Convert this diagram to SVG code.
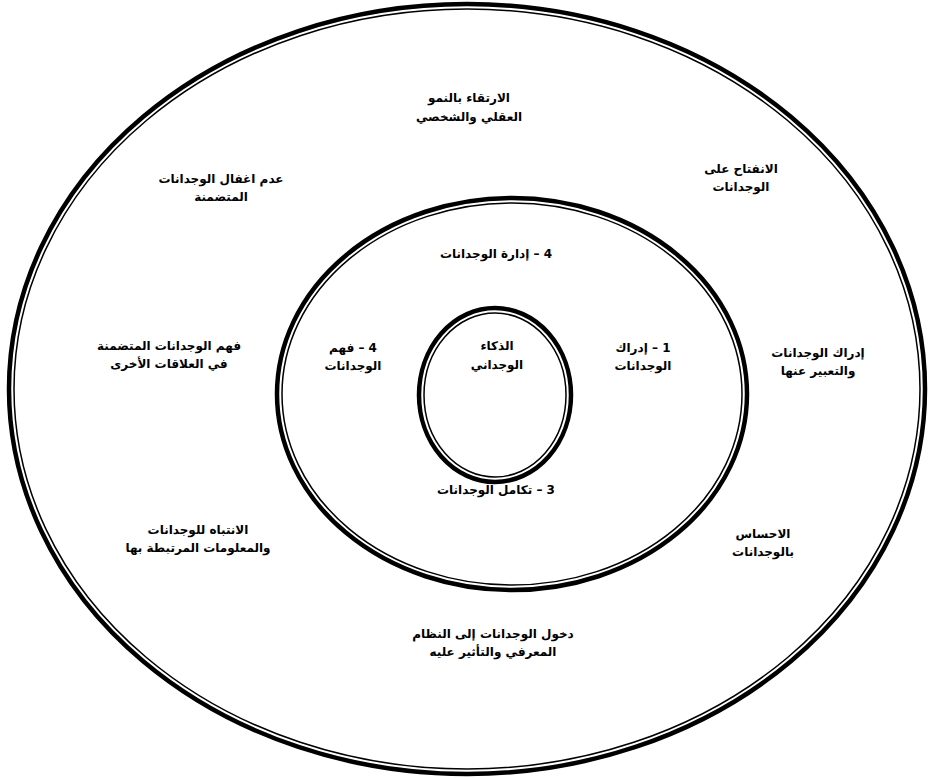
<svg xmlns="http://www.w3.org/2000/svg" width="935" height="778" viewBox="0 0 935 778">
<style>
.thick{fill:none;stroke:#000;stroke-width:4.5}
.thin{fill:none;stroke:#000;stroke-width:1.5}
text{font-family:"DejaVu Sans","Noto Sans",sans-serif;font-weight:bold;font-size:12px;fill:#000;text-anchor:middle;direction:rtl}
</style>
<rect width="935" height="778" fill="#fff"/>
<g id="ring-outer">
<ellipse class="thick" cx="467" cy="389" rx="458" ry="385"/>
<ellipse class="thin" cx="467" cy="389" rx="453" ry="380"/>
</g>
<g id="ring-middle">
<ellipse class="thick" cx="512" cy="394" rx="235" ry="196"/>
<ellipse class="thin" cx="512" cy="394" rx="230" ry="191"/>
</g>
<g id="ring-inner">
<ellipse class="thick" cx="495" cy="395" rx="76" ry="87"/>
<ellipse class="thin" cx="495" cy="395" rx="71" ry="82"/>
</g>
<g id="n-core"><text x="497" y="350">الذكاء</text><text x="497" y="369">الوجداني</text></g>
<g id="n-1"><text x="643" y="352">1 – إدراك</text><text x="643" y="370">الوجدانات</text></g>
<g id="n-2"><text x="353" y="352">4 – فهم</text><text x="353" y="370">الوجدانات</text></g>
<g id="n-3"><text x="496" y="494">3 – تكامل الوجدانات</text></g>
<g id="n-4"><text x="496" y="258">4 – إدارة الوجدانات</text></g>
<g id="o-top"><text x="469" y="102">الارتقاء بالنمو</text><text x="469" y="121">العقلي والشخصي</text></g>
<g id="o-tr"><text x="741" y="173">الانفتاح على</text><text x="741" y="191">الوجدانات</text></g>
<g id="o-tl"><text x="221" y="183">عدم اغفال الوجدانات</text><text x="221" y="201">المتضمنة</text></g>
<g id="o-l"><text x="169" y="350">فهم الوجدانات المتضمنة</text><text x="169" y="368">في العلاقات الأخرى</text></g>
<g id="o-r"><text x="818" y="357">إدراك الوجدانات</text><text x="818" y="375">والتعبير عنها</text></g>
<g id="o-bl"><text x="198" y="534">الانتباه للوجدانات</text><text x="198" y="552">والمعلومات المرتبطة بها</text></g>
<g id="o-br"><text x="763" y="538">الاحساس</text><text x="763" y="556">بالوجدانات</text></g>
<g id="o-b"><text x="493" y="638">دخول الوجدانات إلى النظام</text><text x="493" y="656">المعرفي والتأثير عليه</text></g>
<g id="connectors"/>
</svg>
